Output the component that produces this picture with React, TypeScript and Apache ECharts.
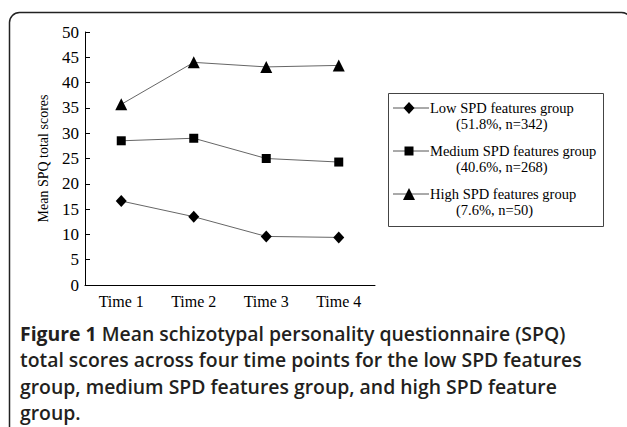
import React, { useEffect, useRef } from "react";
import * as echarts from "echarts";

const categories = ["Time 1", "Time 2", "Time 3", "Time 4"];
const lowValues = [16.6, 13.5, 9.6, 9.4];
const mediumValues = [28.5, 29.0, 25.0, 24.3];
const highValues = [35.7, 44.0, 43.1, 43.4];
const seriesNames = ["Low SPD features group", "Medium SPD features group", "High SPD features group"];
const seriesSubs = ["(51.8%, n=342)", "(40.6%, n=268)", "(7.6%, n=50)"];
const symbols = ["diamond", "rect", "triangle"];
const symbolSizes: any[] = [[11, 12], 9, 12];
const yTicks = { min: 0, max: 50, interval: 5 };
const yAxisName = "Mean SPQ total scores";
const captionBold = "Figure 1";
const captionLines = [
  " Mean schizotypal personality questionnaire (SPQ)",
  "total scores across four time points for the low SPD features",
  "group, medium SPD features group, and high SPD feature",
  "group.",
];

const SERIF = "'Liberation Serif', 'Times New Roman', serif";
const SANS = "'Open Sans', 'Noto Sans', sans-serif";

export default function App() {
  const ref = useRef<HTMLDivElement>(null);
  useEffect(() => {
    document.body.style.margin = "0";
    const chart = echarts.init(ref.current!, null, { renderer: "svg" });
    const data = [lowValues, mediumValues, highValues];
    const legendTops = [108, 151, 194];
    const legendGraphics: any[] = [
      {
        type: "rect",
        shape: { x: 388.5, y: 93.5, width: 215, height: 133 },
        style: { fill: "#fff", stroke: "#444", lineWidth: 1 },
      },
    ];
    seriesNames.forEach((n, i) => {
      const y = legendTops[i];
      legendGraphics.push({
        type: "line",
        shape: { x1: 393, y1: y, x2: 429, y2: y },
        style: { stroke: "#555", lineWidth: 1 },
      });
      const sz = symbolSizes[i];
      const w = Array.isArray(sz) ? sz[0] : sz;
      const h = Array.isArray(sz) ? sz[1] : sz;
      if (symbols[i] === "diamond") {
        legendGraphics.push({
          type: "polygon",
          shape: { points: [[409, y - h / 2], [409 + w / 2, y], [409, y + h / 2], [409 - w / 2, y]] },
          style: { fill: "#000" },
        });
      } else if (symbols[i] === "rect") {
        legendGraphics.push({
          type: "rect",
          shape: { x: 409 - w / 2, y: y - h / 2, width: w, height: h },
          style: { fill: "#000" },
        });
      } else {
        legendGraphics.push({
          type: "polygon",
          shape: { points: [[409, y - h / 2], [409 + w / 2, y + h / 2], [409 - w / 2, y + h / 2]] },
          style: { fill: "#000" },
        });
      }
      legendGraphics.push({
        type: "text",
        x: 430,
        y,
        style: { text: n, font: `14.5px ${SERIF}`, fill: "#000", textVerticalAlign: "middle" },
      });
      legendGraphics.push({
        type: "text",
        x: 456,
        y: y + 16,
        style: { text: seriesSubs[i], font: `14.5px ${SERIF}`, fill: "#000", textVerticalAlign: "middle" },
      });
    });

    const captionGraphics: any[] = captionLines.map((line, i) => ({
      type: "text",
      x: 20,
      y: 333 + i * 26.5,
      style: {
        text: i === 0 ? `{b|${captionBold}}{r|${line}}` : `{r|${line}}`,
        textVerticalAlign: "middle",
        rich: {
          b: { font: `bold 19.4px ${SANS}`, fill: "#231f20" },
          r: { font: `600 19.4px ${SANS}`, fill: "#231f20" },
        },
      },
    }));

    chart.setOption({
      animation: false,
      backgroundColor: "#fff",
      grid: { left: 85, right: 252, top: 32, bottom: 142 },
      xAxis: {
        type: "category",
        data: categories,
        boundaryGap: true,
        axisLine: { lineStyle: { color: "#000", width: 1 } },
        axisTick: { inside: true, length: 5, lineStyle: { color: "#000" } },
        axisLabel: { color: "#000", fontFamily: SERIF, fontSize: 16, margin: 8 },
      },
      yAxis: {
        type: "value",
        min: yTicks.min,
        max: yTicks.max,
        interval: yTicks.interval,
        name: yAxisName,
        nameLocation: "middle",
        nameGap: 35,
        nameTextStyle: { color: "#000", fontFamily: SERIF, fontSize: 14 },
        splitLine: { show: false },
        axisLine: { show: true, lineStyle: { color: "#000", width: 1 } },
        axisTick: { show: true, inside: true, length: 5, lineStyle: { color: "#000" } },
        axisLabel: { color: "#000", fontFamily: SERIF, fontSize: 17, margin: 6 },
      },
      series: data.map((d, i) => ({
        type: "line",
        name: seriesNames[i],
        data: d,
        symbol: symbols[i],
        symbolSize: symbolSizes[i],
        showAllSymbol: true,
        lineStyle: { color: "#666", width: 1 },
        itemStyle: { color: "#000" },
      })),
      graphic: [
        {
          type: "rect",
          shape: { x: 9.5, y: 12.5, width: 622, height: 440, r: [10, 10, 0, 0] },
          style: { fill: "none", stroke: "#222", lineWidth: 1.5 },
          z: -1,
        },
        ...legendGraphics,
        ...captionGraphics,
      ],
    });
    return () => chart.dispose();
  }, []);
  return <div ref={ref} style={{ position: "fixed", left: 0, top: 0, width: 627, height: 427 }} />;
}
